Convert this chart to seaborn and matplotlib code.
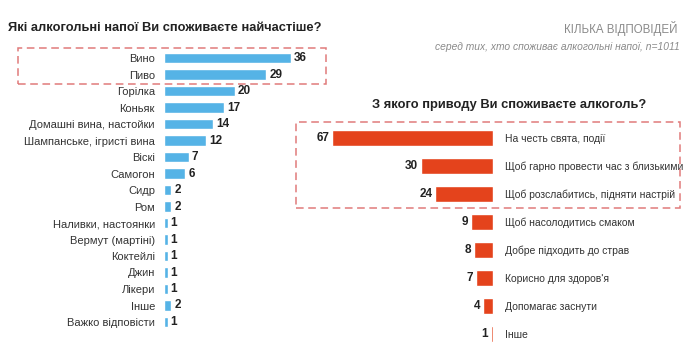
import matplotlib
matplotlib.use("Agg")
import matplotlib.pyplot as plt
from matplotlib.patches import Rectangle
import seaborn as sns
import pandas as pd

drinks = ["Вино", "Пиво", "Горілка", "Коньяк", "Домашні вина, настойки",
          "Шампанське, ігристі вина", "Віскі", "Самогон", "Сидр", "Ром",
          "Наливки, настоянки", "Вермут (мартіні)", "Коктейлі", "Джин",
          "Лікери", "Інше", "Важко відповісти"]
drink_values = [36, 29, 20, 17, 14, 12, 7, 6, 2, 2, 1, 1, 1, 1, 1, 2, 1]

reasons = ["На честь свята, події", "Щоб гарно провести час з близькими",
           "Щоб розслабитись, підняти настрій", "Щоб насолодитись смаком",
           "Добре підходить до страв", "Корисно для здоров'я",
           "Допомагає заснути", "Інше"]
reason_values = [67, 30, 24, 9, 8, 7, 4, 1]

title_left = "Які алкогольні напої Ви споживаєте найчастіше?"
title_right = "З якого приводу Ви споживаєте алкоголь?"
note_top = "КІЛЬКА ВІДПОВІДЕЙ"
note_sub = "серед тих, хто споживає алкогольні напої, n=1011"

BLUE = "#55b3e6"
RED = "#e4431c"
BOX = "#e07a7a"

sns.set_style("white")
plt.rcParams['font.family'] = ['Liberation Sans', 'DejaVu Sans']

W, H = 690, 350
fig = plt.figure(figsize=(W / 100, H / 100), dpi=100)

def px_axes(x0, x1, y0, y1):
    return fig.add_axes([x0 / W, 1 - y1 / H, (x1 - x0) / W, (y1 - y0) / H])

# Left chart
dl = pd.DataFrame({"cat": drinks, "val": drink_values})
axl = px_axes(164, 164 + 3.53 * 40, 58 - 8.25, 322 + 8.25)
sns.barplot(data=dl, y="cat", x="val", color=BLUE, width=0.62, ax=axl,
            saturation=1, order=drinks)
axl.set_xlim(0, 40)
axl.set_ylim(len(drinks) - 0.5, -0.5)
for i, v in enumerate(drink_values):
    axl.text(v + 0.9, i, str(v), va="center", ha="left", fontsize=8.5,
             fontweight="bold", color="#222222")
axl.set_xlabel("")
axl.set_ylabel("")
axl.set_xticks([])
axl.tick_params(axis="y", length=0, pad=6.5, labelsize=8, labelcolor="#333333")
sns.despine(ax=axl, left=True, bottom=True)

# Right chart
dr = pd.DataFrame({"cat": reasons, "val": reason_values})
axr = px_axes(493 - 2.4 * 70, 493, 138 - 14, 334 + 14)
sns.barplot(data=dr, y="cat", x="val", color=RED, width=0.58, ax=axr,
            saturation=1, order=reasons)
axr.set_xlim(70, 0)
axr.set_ylim(len(reasons) - 0.5, -0.5)
for i, v in enumerate(reason_values):
    axr.text(v + 1.3, i, str(v), va="center", ha="right", fontsize=8.5,
             fontweight="bold", color="#222222")
axr.set_xlabel("")
axr.set_ylabel("")
axr.set_xticks([])
axr.yaxis.tick_right()
axr.tick_params(axis="y", length=0, pad=8.6, labelsize=7.5, labelcolor="#333333")
sns.despine(ax=axr, left=True, bottom=True, right=True)

# Titles and notes
fig.text(8 / W, 1 - 28 / H, title_left, fontsize=9.3, fontweight="bold",
         ha="left", va="center", color="#222222")
fig.text(509 / W, 1 - 105 / H, title_right, fontsize=9.3, fontweight="bold",
         ha="center", va="center", color="#222222")
fig.text(678 / W, 1 - 28 / H, note_top, fontsize=8.3, ha="right", va="center",
         color="#8a8a8a")
fig.text(680 / W, 1 - 47 / H, note_sub, fontsize=7.4, ha="right", va="center",
         color="#8a8a8a", style="italic")

# Dashed boxes
for (x0, y0, x1, y1) in [(18, 48, 326, 84), (296, 122, 680, 208)]:
    fig.patches.append(Rectangle((x0 / W, 1 - y1 / H), (x1 - x0) / W, (y1 - y0) / H,
                                 transform=fig.transFigure, fill=False,
                                 edgecolor=BOX, linestyle=(0, (5, 3)), linewidth=1.1))

fig.savefig("out.png", dpi=100, facecolor="white")
